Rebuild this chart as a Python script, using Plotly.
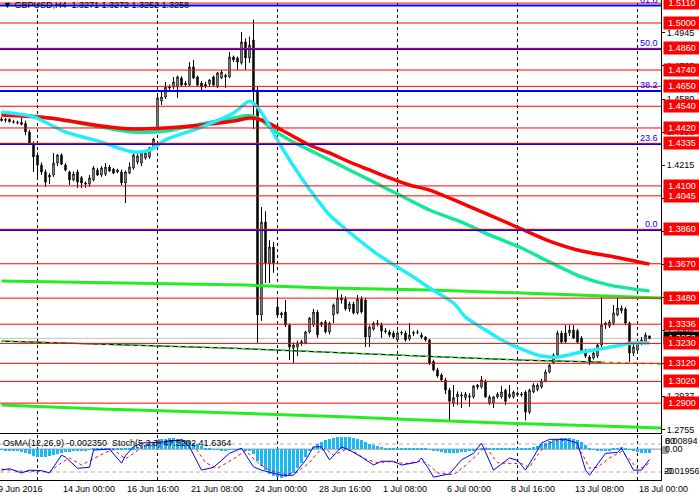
import plotly.graph_objects as go

# GBPUSD H4 bars, 9 Jun 2016 12:00 .. 18 Jul 2016 12:00
opens = [
    1.4470, 1.4462, 1.4468, 1.4455, 1.4452, 1.4450, 1.4445, 1.4398, 1.4337, 1.4270,
    1.4215, 1.4177, 1.4149, 1.4160, 1.4226, 1.4271, 1.4215, 1.4177, 1.4133, 1.4177,
    1.4145, 1.4116, 1.4110, 1.4133, 1.4188, 1.4160, 1.4165, 1.4204, 1.4193, 1.4177,
    1.4177, 1.4116, 1.4171, 1.4199, 1.4232, 1.4226, 1.4254, 1.4260, 1.4309, 1.4420,
    1.4569, 1.4591, 1.4646, 1.4646, 1.4646, 1.4696, 1.4668, 1.4657, 1.4757, 1.4702,
    1.4668, 1.4660, 1.4663, 1.4702, 1.4646, 1.4696, 1.4710, 1.4702, 1.4812, 1.4807,
    1.4779, 1.4895, 1.4807, 1.4906, 1.4630, 1.3387, 1.3900, 1.3674, 1.3762, 1.3431,
    1.3387, 1.3403, 1.3331, 1.3204, 1.3210, 1.3230, 1.3232, 1.3293, 1.3331, 1.3403,
    1.3331, 1.3348, 1.3293, 1.3387, 1.3398, 1.3481, 1.3475, 1.3420, 1.3448, 1.3398,
    1.3475, 1.3470, 1.3265, 1.3309, 1.3342, 1.3331, 1.3300, 1.3293, 1.3287, 1.3249,
    1.3287, 1.3287, 1.3255, 1.3285, 1.3290, 1.3276, 1.3265, 1.3249, 1.3130, 1.3083,
    1.3055, 1.3028, 1.2972, 1.2900, 1.2934, 1.2945, 1.2930, 1.2940, 1.2934, 1.2989,
    1.2990, 1.3020, 1.2900, 1.2900, 1.2934, 1.2934, 1.2972, 1.2934, 1.2934, 1.2945,
    1.2950, 1.2961, 1.2850, 1.2961, 1.2975, 1.2989, 1.3022, 1.3072, 1.3121, 1.3166,
    1.3287, 1.3287, 1.3287, 1.3304, 1.3300, 1.3260, 1.3193, 1.3155, 1.3149, 1.3160,
    1.3221, 1.3331, 1.3326, 1.3342, 1.3387, 1.3410, 1.3420, 1.3342, 1.3177, 1.3193,
    1.3232, 1.3237, 1.3271,
]
highs = [
    1.4480, 1.4475, 1.4472, 1.4465, 1.4460, 1.4475, 1.4460, 1.4410, 1.4345, 1.4285,
    1.4230, 1.4190, 1.4170, 1.4282, 1.4275, 1.4280, 1.4225, 1.4185, 1.4180, 1.4190,
    1.4155, 1.4125, 1.4160, 1.4210, 1.4200, 1.4210, 1.4226, 1.4215, 1.4200, 1.4195,
    1.4190, 1.4185, 1.4230, 1.4280, 1.4275, 1.4290, 1.4290, 1.4315, 1.4365, 1.4602,
    1.4619, 1.4674, 1.4660, 1.4702, 1.4710, 1.4705, 1.4680, 1.4784, 1.4796, 1.4710,
    1.4680, 1.4675, 1.4690, 1.4710, 1.4730, 1.4740, 1.4720, 1.4840, 1.4820, 1.4815,
    1.4950, 1.4915, 1.4925, 1.5018, 1.4650, 1.3983, 1.3960, 1.3800, 1.3790, 1.3481,
    1.3405, 1.3470, 1.3340, 1.3235, 1.3245, 1.3250, 1.3300, 1.3375, 1.3420, 1.3415,
    1.3350, 1.3360, 1.3350, 1.3450, 1.3536, 1.3500, 1.3490, 1.3460, 1.3460, 1.3497,
    1.3490, 1.3480, 1.3330, 1.3350, 1.3360, 1.3345, 1.3315, 1.3305, 1.3300, 1.3300,
    1.3300, 1.3300, 1.3342, 1.3300, 1.3305, 1.3290, 1.3270, 1.3255, 1.3140, 1.3095,
    1.3065, 1.3040, 1.2985, 1.3000, 1.2965, 1.2960, 1.2962, 1.2955, 1.3000, 1.3005,
    1.3050, 1.3030, 1.2945, 1.2940, 1.2960, 1.2995, 1.2980, 1.3000, 1.2970, 1.2965,
    1.2962, 1.2970, 1.2980, 1.3010, 1.3010, 1.3035, 1.3085, 1.3115, 1.3175, 1.3300,
    1.3300, 1.3331, 1.3331, 1.3331, 1.3310, 1.3270, 1.3200, 1.3165, 1.3185, 1.3230,
    1.3486, 1.3350, 1.3360, 1.3442, 1.3481, 1.3440, 1.3430, 1.3350, 1.3230, 1.3250,
    1.3265, 1.3290, 1.3272,
]
lows = [
    1.4455, 1.4450, 1.4450, 1.4445, 1.4440, 1.4435, 1.4380, 1.4330, 1.4177, 1.4144,
    1.4160, 1.4094, 1.4110, 1.4150, 1.4210, 1.4215, 1.4180, 1.4105, 1.4125, 1.4088,
    1.4088, 1.4090, 1.4095, 1.4125, 1.4155, 1.4150, 1.4155, 1.4180, 1.4165, 1.4170,
    1.4105, 1.4005, 1.4165, 1.4190, 1.4220, 1.4210, 1.4245, 1.4250, 1.4300, 1.4400,
    1.4547, 1.4580, 1.4630, 1.4635, 1.4586, 1.4650, 1.4650, 1.4650, 1.4690, 1.4650,
    1.4619, 1.4640, 1.4650, 1.4650, 1.4640, 1.4690, 1.4641, 1.4695, 1.4785, 1.4740,
    1.4770, 1.4740, 1.4780, 1.4414, 1.3232, 1.3355, 1.3563, 1.3563, 1.3620, 1.3380,
    1.3370, 1.3320, 1.3138, 1.3121, 1.3160, 1.3215, 1.3225, 1.3285, 1.3320, 1.3260,
    1.3320, 1.3285, 1.3280, 1.3342, 1.3390, 1.3450, 1.3410, 1.3405, 1.3390, 1.3390,
    1.3395, 1.3210, 1.3210, 1.3300, 1.3325, 1.3260, 1.3285, 1.3265, 1.3255, 1.3240,
    1.3275, 1.3240, 1.3245, 1.3270, 1.3280, 1.3255, 1.3240, 1.3110, 1.3075, 1.3040,
    1.3020, 1.2950, 1.2798, 1.2880, 1.2890, 1.2873, 1.2915, 1.2880, 1.2925, 1.2975,
    1.2980, 1.2930, 1.2890, 1.2873, 1.2925, 1.2925, 1.2890, 1.2925, 1.2925, 1.2935,
    1.2935, 1.2805, 1.2840, 1.2955, 1.2965, 1.2980, 1.3015, 1.3065, 1.3115, 1.3155,
    1.3230, 1.3230, 1.3270, 1.3255, 1.3230, 1.3175, 1.3150, 1.3110, 1.3140, 1.3150,
    1.3210, 1.3310, 1.3315, 1.3330, 1.3380, 1.3395, 1.3330, 1.3127, 1.3160, 1.3180,
    1.3220, 1.3225, 1.3252,
]
closes = [
    1.4462, 1.4468, 1.4455, 1.4452, 1.4448, 1.4440, 1.4398, 1.4337, 1.4260, 1.4215,
    1.4177, 1.4121, 1.4160, 1.4226, 1.4271, 1.4220, 1.4188, 1.4133, 1.4166, 1.4121,
    1.4116, 1.4110, 1.4144, 1.4199, 1.4160, 1.4199, 1.4204, 1.4182, 1.4171, 1.4188,
    1.4116, 1.4177, 1.4204, 1.4271, 1.4265, 1.4282, 1.4282, 1.4309, 1.4359, 1.4586,
    1.4591, 1.4646, 1.4641, 1.4674, 1.4702, 1.4657, 1.4660, 1.4757, 1.4696, 1.4657,
    1.4646, 1.4652, 1.4685, 1.4657, 1.4724, 1.4729, 1.4702, 1.4812, 1.4796, 1.4784,
    1.4895, 1.4807, 1.4878, 1.4630, 1.3387, 1.3900, 1.3674, 1.3762, 1.3674, 1.3387,
    1.3398, 1.3331, 1.3210, 1.3221, 1.3232, 1.3240, 1.3293, 1.3370, 1.3403, 1.3276,
    1.3345, 1.3293, 1.3342, 1.3442, 1.3481, 1.3470, 1.3420, 1.3448, 1.3398, 1.3475,
    1.3403, 1.3265, 1.3320, 1.3342, 1.3337, 1.3298, 1.3295, 1.3276, 1.3265, 1.3287,
    1.3290, 1.3249, 1.3276, 1.3290, 1.3293, 1.3265, 1.3249, 1.3121, 1.3083, 1.3050,
    1.3028, 1.2972, 1.2910, 1.2930, 1.2950, 1.2940, 1.2950, 1.2935, 1.2994, 1.3000,
    1.3028, 1.2934, 1.2934, 1.2934, 1.2950, 1.2961, 1.2910, 1.2950, 1.2961, 1.2955,
    1.2945, 1.2850, 1.2972, 1.3000, 1.3000, 1.3022, 1.3072, 1.3110, 1.3166, 1.3287,
    1.3237, 1.3240, 1.3304, 1.3260, 1.3237, 1.3182, 1.3160, 1.3127, 1.3177, 1.3221,
    1.3331, 1.3342, 1.3348, 1.3398, 1.3425, 1.3425, 1.3342, 1.3177, 1.3210, 1.3237,
    1.3249, 1.3276, 1.3258,
]
bars = list(range(len(closes)))

# OsMA(12,26,9) histogram, one value per bar
osma = [
    -0.0005, -0.0006, -0.0008, -0.0010, -0.0012, -0.0018, -0.0025, -0.0033, -0.0042, -0.0048,
    -0.0050, -0.0048, -0.0044, -0.0038, -0.0030, -0.0024, -0.0020, -0.0017, -0.0014, -0.0012,
    -0.0010, -0.0008, -0.0005, 0.0003, 0.0006, 0.0008, 0.0010, 0.0010, 0.0009, 0.0008,
    0.0006, 0.0005, 0.0007, 0.0012, 0.0016, 0.0020, 0.0024, 0.0030, 0.0040, 0.0055,
    0.0062, 0.0066, 0.0068, 0.0068, 0.0066, 0.0062, 0.0058, 0.0052, 0.0040, 0.0030,
    0.0020, 0.0010, 0.0004, -0.0002, -0.0005, -0.0006, -0.0006, -0.0005, -0.0004, -0.0003,
    -0.0004, -0.0006, -0.0008, -0.0030, -0.0075, -0.0110, -0.0135, -0.0155, -0.0168, -0.0178,
    -0.0181, -0.0178, -0.0170, -0.0150, -0.0120, -0.0085, -0.0050, -0.0015, 0.0015, 0.0035,
    0.0048, 0.0058, 0.0065, 0.0070, 0.0074, 0.0076, 0.0076, 0.0074, 0.0070, 0.0066,
    0.0060, 0.0045, 0.0032, 0.0024, 0.0018, 0.0014, 0.0010, 0.0008, 0.0006, 0.0006,
    0.0005, 0.0005, 0.0004, 0.0004, 0.0004, 0.0003, 0.0002, -0.0003, -0.0008, -0.0013,
    -0.0018, -0.0023, -0.0025, -0.0024, -0.0022, -0.0020, -0.0017, -0.0013, -0.0009, -0.0005,
    0.0003, 0.0005, 0.0006, 0.0007, 0.0008, 0.0008, 0.0007, 0.0007, 0.0007, 0.0006,
    0.0006, 0.0005, 0.0006, 0.0012, 0.0020, 0.0030, 0.0040, 0.0050, 0.0058, 0.0066,
    0.0070, 0.0072, 0.0070, 0.0064, 0.0055, 0.0042, 0.0028, 0.0010, -0.0005, -0.0010,
    -0.0012, -0.0010, -0.0006, 0.0002, 0.0008, 0.0012, 0.0010, -0.0005, -0.0014, -0.0020,
    -0.0023, -0.0024, -0.0024,
]
osma_last = -0.002350

# Stochastic(5,3,3): main and signal, read at turning points
stoch_main_idx = [0, 2, 5, 7, 10, 12, 15, 16, 19, 22, 23, 27, 30, 31, 33, 35, 40, 45, 47, 50,
                  53, 57, 60, 63, 65, 70, 73, 76, 78, 80, 82, 85, 87, 90, 93, 95, 98, 100, 104, 105,
                  107, 108, 112, 115, 118, 120, 123, 127, 129, 131, 133, 135, 137, 141, 144, 146, 147, 151, 154, 155,
                  158, 160, 162]
stoch_main = [24, 27, 18, 24, 23, 18, 56, 52, 28, 30, 67, 69, 39, 55, 74, 82, 84, 89, 74, 24,
              30, 60, 71, 31, 24, 13, 13, 45, 74, 74, 46, 74, 67, 52, 35, 43, 43, 35, 41, 50,
              24, 9, 16, 46, 60, 82, 24, 50, 45, 24, 52, 82, 90, 90, 82, 24, 13, 60, 62, 71,
              24, 24, 47.3202]
stoch_sig_idx = [0, 3, 6, 9, 12, 15, 17, 20, 23, 26, 28, 31, 33, 36, 41, 46, 48, 51, 54, 58,
                 61, 64, 67, 71, 74, 77, 79, 81, 83, 86, 88, 91, 94, 97, 101, 105, 107, 109, 113, 116,
                 119, 121, 124, 127, 130, 132, 134, 136, 139, 142, 145, 147, 149, 152, 155, 157, 159, 161, 162]
stoch_sig = [26, 24, 21, 22, 20, 40, 50, 35, 48, 62, 68, 48, 60, 78, 83, 86, 78, 40, 28, 48,
             66, 40, 24, 15, 20, 40, 62, 70, 56, 68, 64, 48, 40, 42, 38, 44, 34, 18, 14, 34,
             58, 74, 40, 38, 38, 30, 56, 78, 88, 88, 62, 28, 30, 50, 64, 48, 26, 32, 41.6364]

# moving averages
ma_fast_idx = [0, 8, 16, 25, 33, 37, 41, 50, 58, 62, 64, 66, 70, 75, 79, 82, 86, 90, 95, 99,
               103, 107, 113, 116, 121, 125, 130, 135, 139, 145, 151, 158, 162]
ma_fast = [1.4508, 1.4481, 1.4398, 1.4342, 1.4287, 1.4298, 1.4354, 1.4425, 1.4503, 1.4568,
           1.4535, 1.4470, 1.4315, 1.4144, 1.4022, 1.3939, 1.3862, 1.3790, 1.3707, 1.3652,
           1.3597, 1.3536, 1.3453, 1.3375, 1.3304, 1.3249, 1.3199, 1.3160, 1.3155, 1.3182,
           1.3204, 1.3232, 1.3232]
ma_mid_idx = [0, 12, 25, 33, 41, 50, 58, 62, 65, 67, 72, 77, 82, 87, 92, 97, 102, 107, 115, 122,
              130, 137, 145, 152, 162]
ma_mid = [1.4503, 1.4475, 1.4425, 1.4398, 1.4403, 1.4442, 1.4475, 1.4488, 1.4462, 1.4425,
          1.4354, 1.4298, 1.4243, 1.4188, 1.4133, 1.4077, 1.4022, 1.3967, 1.3900, 1.3829,
          1.3757, 1.3680, 1.3597, 1.3552, 1.3519]
ma_slow_idx = [0, 12, 25, 33, 41, 50, 58, 62, 65, 70, 77, 82, 87, 92, 97, 102, 107, 115, 122, 130,
               137, 145, 152, 162]
ma_slow = [1.4492, 1.4475, 1.4431, 1.4414, 1.4420, 1.4436, 1.4458, 1.4475, 1.4464, 1.4409,
           1.4326, 1.4282, 1.4232, 1.4188, 1.4144, 1.4105, 1.4077, 1.4005, 1.3939, 1.3862,
           1.3795, 1.3740, 1.3713, 1.3668]
lime_hi_idx = [0, 30, 61, 82, 107, 130, 150, 165]
lime_hi = [1.3574, 1.3563, 1.3552, 1.3536, 1.3525, 1.3508, 1.3492, 1.3481]
lime_lo_idx = [0, 25, 50, 75, 87, 105, 125, 150, 165]
lime_lo = [1.2889, 1.2867, 1.2851, 1.2834, 1.2823, 1.2807, 1.2790, 1.2774, 1.2762]
base_idx = [0, 57, 105, 130, 150, 165]
base_line = [1.3243, 1.3204, 1.3160, 1.3138, 1.3127, 1.3116]

# horizontal levels
red_levels = [1.5110, 1.5000, 1.4860, 1.4740, 1.4650, 1.4540, 1.4420, 1.4335, 1.4100,
              1.4045, 1.3860, 1.3670, 1.3480, 1.3336, 1.3230, 1.3120, 1.3020, 1.2900]
fib_prices = [1.3857, 1.4331, 1.4624, 1.4857, 1.5096]
fib_labels = ["0.0", "23.6", "38.2", "50.0", "61.8"]

week_starts = [9, 39, 69, 99, 129, 159]
first_label = "9 Jun 2016"
xlabel_idx = [15, 31, 47, 63, 79, 95, 111, 127, 143, 159]
xlabel_text = ["14 Jun 00:00", "16 Jun 16:00", "21 Jun 08:00", "24 Jun 00:00",
               "28 Jun 16:00", "1 Jul 08:00", "6 Jul 00:00", "8 Jul 16:00", "13 Jul 08:00",
               "18 Jul 00:00"]

FONT = "Liberation Sans"
MAIN_BOTTOM = 47 / 480
SUB_TOP = 45 / 480
X_RANGE = [-0.375, 164.875]   # 4 px per bar, bar centres on half pixels

fig = go.Figure()

# MAs and trend lines under the candles
fig.add_trace(go.Scatter(x=lime_lo_idx, y=lime_lo, mode="lines", line=dict(color="#22ee22", width=3)))
fig.add_trace(go.Scatter(x=lime_hi_idx, y=lime_hi, mode="lines", line=dict(color="#22ee22", width=3)))
fig.add_trace(go.Scatter(x=base_idx[:-1], y=base_line[:-1], mode="lines", line=dict(color="black", width=1.2)))
fig.add_trace(go.Scatter(x=base_idx, y=base_line, mode="lines",
                         line=dict(color="#22ee22", width=1.5, dash="4px,4px")))
fig.add_trace(go.Scatter(x=ma_mid_idx, y=ma_mid, mode="lines",
                         line=dict(color="#12e89a", width=3.5, shape="spline", smoothing=0.8)))
fig.add_trace(go.Scatter(x=ma_slow_idx, y=ma_slow, mode="lines",
                         line=dict(color="#ff0000", width=3.5, shape="spline", smoothing=0.8)))
fig.add_trace(go.Scatter(x=ma_fast_idx, y=ma_fast, mode="lines",
                         line=dict(color="#22eef8", width=3.5, shape="spline", smoothing=0.8)))

fig.add_trace(go.Candlestick(
    x=bars, open=opens, high=highs, low=lows, close=closes,
    increasing=dict(line=dict(color="black", width=1), fillcolor="white"),
    decreasing=dict(line=dict(color="black", width=1), fillcolor="black"),
    whiskerwidth=0,
))

# sub window: OsMA + Stochastic
fig.add_trace(go.Bar(x=bars, y=osma, marker=dict(color="#1cb8f4", line=dict(width=0)),
                     width=0.75, xaxis="x2", yaxis="y2"))
fig.add_trace(go.Scatter(x=stoch_sig_idx, y=stoch_sig, mode="lines", xaxis="x2", yaxis="y3",
                         line=dict(color="#ff0000", width=1, dash="3px,3px")))
fig.add_trace(go.Scatter(x=stoch_main_idx, y=stoch_main, mode="lines", xaxis="x2", yaxis="y3",
                         line=dict(color="#0000ff", width=1)))

shapes = []
for w in week_starts:
    shapes.append(dict(type="line", xref="x", yref="paper", x0=w, x1=w, y0=0, y1=1,
                       line=dict(color="black", width=1, dash="3px,3px"), layer="below"))
shapes.append(dict(type="line", xref="paper", yref="y", x0=0, x1=1, y0=closes[-1], y1=closes[-1],
                   line=dict(color="#c0c0c0", width=1), layer="below"))
for p in fib_prices:
    shapes.append(dict(type="line", xref="paper", yref="y", x0=0, x1=1, y0=p, y1=p,
                       line=dict(color="#0000ff", width=2), layer="above"))
for p in red_levels:
    shapes.append(dict(type="line", xref="paper", yref="y", x0=0, x1=1, y0=p, y1=p,
                       line=dict(color="#ff0000", width=1), layer="above"))
shapes.append(dict(type="line", xref="paper", yref="y2", x0=0, x1=1, y0=0, y1=0,
                   line=dict(color="#909090", width=1), layer="below"))
for lv in (80, 20):
    shapes.append(dict(type="line", xref="paper", yref="y3", x0=0, x1=1, y0=lv, y1=lv,
                       line=dict(color="#b0b0b0", width=1, dash="4px,3px"), layer="below"))
shapes.append(dict(type="rect", xref="paper", yref="paper", x0=1.0015, x1=1.0115,
                   y0=26 / 480, y1=34 / 480, fillcolor="#a0a0a0", line=dict(width=0)))

ann = []
tf = dict(family=FONT, size=9, color="black")
ann.append(dict(xref="paper", yref="paper", x=0, y=1, xanchor="left", yanchor="middle",
                xshift=1, yshift=-5, showarrow=False,
                text="\u25bc GBPUSD,H4\u00a0\u00a0%.4f %.4f %.4f %.4f" % (opens[-1], highs[-1], lows[-1], closes[-1]),
                font=tf))
ann.append(dict(xref="paper", yref="paper", x=0, y=SUB_TOP, xanchor="left", yanchor="top",
                xshift=1, yshift=-1, showarrow=False,
                text="OsMA(12,26,9) %.6f\u00a0\u00a0Stoch(5,3,3) %.4f %.4f" % (osma_last, stoch_main[-1], stoch_sig[-1]),
                font=tf))
for p, t in zip(fib_prices, fib_labels):
    ann.append(dict(xref="paper", yref="y", x=1, y=p, xanchor="right", yanchor="bottom",
                    xshift=-1, yshift=-1, showarrow=False, text=t,
                    font=dict(family=FONT, size=9, color="#0000ff")))
# current price box, then the red level boxes
ann.append(dict(xref="paper", yref="y", x=1, y=closes[-1], xanchor="left", yanchor="middle",
                xshift=2, showarrow=False, text="%.4f" % closes[-1], width=36, height=12,
                borderpad=0, bgcolor="black", font=dict(family=FONT, size=9, color="white")))
for p in red_levels:
    ann.append(dict(xref="paper", yref="y", x=1, y=p, xanchor="left", yanchor="middle",
                    xshift=2, showarrow=False, text="%.4f" % p, width=36, height=12,
                    borderpad=0, bgcolor="#ff0000", font=dict(family=FONT, size=9, color="white")))
# sub window scale
ann.append(dict(xref="paper", yref="y2", x=1, y=0.00894, xanchor="left", yanchor="middle",
                xshift=2, yshift=-6, showarrow=False, text="0.00894", font=tf))
ann.append(dict(xref="paper", yref="y3", x=1, y=80, xanchor="left", yanchor="middle",
                xshift=2, yshift=3, showarrow=False, text="80", font=tf))
ann.append(dict(xref="paper", yref="y2", x=1, y=0, xanchor="left", yanchor="middle",
                xshift=2, showarrow=False, text="0.00", font=tf))
ann.append(dict(xref="paper", yref="y2", x=1, y=-0.01956, xanchor="left", yanchor="middle",
                xshift=1, yshift=9, showarrow=False, text="-0.01956", font=tf))
ann.append(dict(xref="paper", yref="y3", x=1, y=20, xanchor="left", yanchor="middle",
                xshift=1, yshift=1, showarrow=False, text="20", font=tf))
ann.append(dict(xref="paper", yref="paper", x=0, y=0, xanchor="left", yanchor="top",
                xshift=-4, yshift=-2, showarrow=False, text=first_label, font=tf))
for i, t in zip(xlabel_idx, xlabel_text):
    ann.append(dict(xref="x2", yref="paper", x=i, y=0, xanchor="left", yanchor="top",
                    xshift=-1, yshift=-2, showarrow=False, text=t, font=tf))

fig.update_layout(
    width=699, height=501,
    margin=dict(l=0, r=38, t=0, b=21),
    paper_bgcolor="white", plot_bgcolor="white",
    showlegend=False, bargap=0, boxgap=0.5,
    xaxis=dict(domain=[0, 1], range=X_RANGE, anchor="y", showticklabels=False, ticks="",
               showgrid=False, zeroline=False, showline=True, linecolor="black", linewidth=1,
               rangeslider=dict(visible=False)),
    yaxis=dict(domain=[MAIN_BOTTOM, 1], range=[1.2735, 1.5127], side="right", anchor="x",
               tick0=1.2755, dtick=0.01825, tickformat=".4f", ticks="outside", ticklen=3,
               tickcolor="black", tickfont=tf, showgrid=False, zeroline=False,
               showline=True, linecolor="black", linewidth=1),
    xaxis2=dict(domain=[0, 1], range=X_RANGE, anchor="y2", matches="x", showticklabels=False,
                ticks="", showgrid=False, zeroline=False, showline=True, linecolor="black", linewidth=1),
    yaxis2=dict(domain=[0, SUB_TOP], range=[-0.01956, 0.00894], side="right", anchor="x2",
                showticklabels=False, ticks="", showgrid=False, zeroline=False,
                showline=True, linecolor="black", linewidth=1),
    yaxis3=dict(overlaying="y2", range=[2.86, 99.3], visible=False, side="right"),
    shapes=shapes,
    annotations=ann,
)

fig.write_html("out.html", config={"displayModeBar": False},
               post_script="document.body.style.margin='0px';")
